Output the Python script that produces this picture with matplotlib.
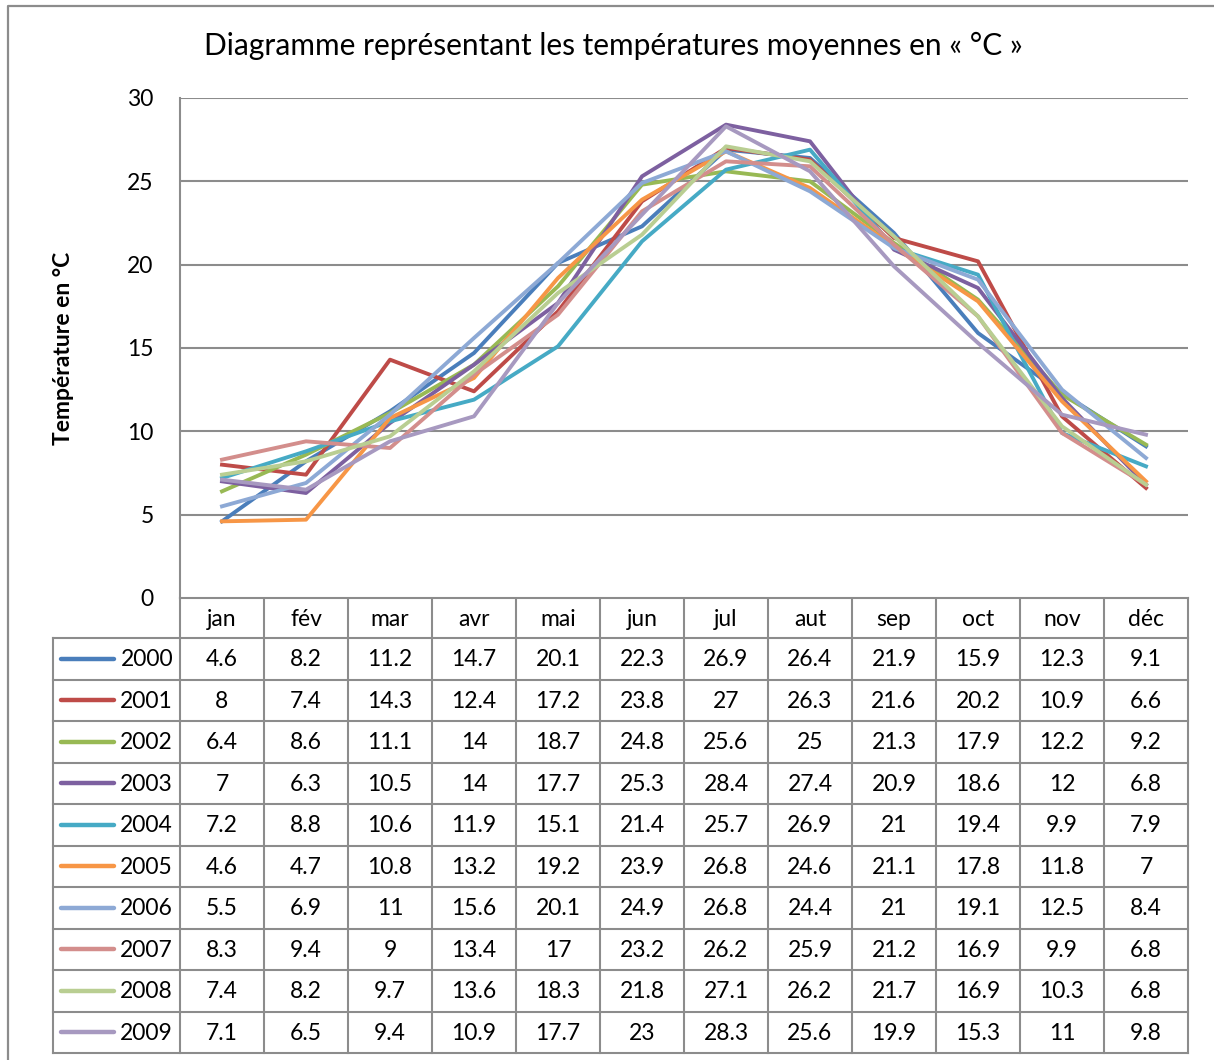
import numpy as np
import matplotlib.pyplot as plt

plt.rcParams['font.family'] = ['Lato', 'DejaVu Sans']

# mois et années
months = ['jan', 'fév', 'mar', 'avr', 'mai', 'jun', 'jul', 'aut', 'sep', 'oct', 'nov', 'déc']
years = ['2000', '2001', '2002', '2003', '2004', '2005', '2006', '2007', '2008', '2009']

# températures moyennes mensuelles (°C)
t2000 = [4.6, 8.2, 11.2, 14.7, 20.1, 22.3, 26.9, 26.4, 21.9, 15.9, 12.3, 9.1]
t2001 = [8, 7.4, 14.3, 12.4, 17.2, 23.8, 27, 26.3, 21.6, 20.2, 10.9, 6.6]
t2002 = [6.4, 8.6, 11.1, 14, 18.7, 24.8, 25.6, 25, 21.3, 17.9, 12.2, 9.2]
t2003 = [7, 6.3, 10.5, 14, 17.7, 25.3, 28.4, 27.4, 20.9, 18.6, 12, 6.8]
t2004 = [7.2, 8.8, 10.6, 11.9, 15.1, 21.4, 25.7, 26.9, 21, 19.4, 9.9, 7.9]
t2005 = [4.6, 4.7, 10.8, 13.2, 19.2, 23.9, 26.8, 24.6, 21.1, 17.8, 11.8, 7]
t2006 = [5.5, 6.9, 11, 15.6, 20.1, 24.9, 26.8, 24.4, 21, 19.1, 12.5, 8.4]
t2007 = [8.3, 9.4, 9, 13.4, 17, 23.2, 26.2, 25.9, 21.2, 16.9, 9.9, 6.8]
t2008 = [7.4, 8.2, 9.7, 13.6, 18.3, 21.8, 27.1, 26.2, 21.7, 16.9, 10.3, 6.8]
t2009 = [7.1, 6.5, 9.4, 10.9, 17.7, 23, 28.3, 25.6, 19.9, 15.3, 11, 9.8]
series = [t2000, t2001, t2002, t2003, t2004, t2005, t2006, t2007, t2008, t2009]

colors = ['#4A7EBB', '#BE4B48', '#98B954', '#7D60A0', '#46AAC5',
          '#F79646', '#8DA9D5', '#D38E8C', '#B9CE92', '#A799C0']

W, H = 1214, 1060
fig = plt.figure(figsize=(W / 100, H / 100), dpi=100)
grid_c = '#8C8C8C'
fs = 16.5

# zone de tracé (en pixels)
x0, x1 = 180, 1188
y_top, y_bot = 98, 598
ax = fig.add_axes([x0 / W, 1 - y_bot / H, (x1 - x0) / W, (y_bot - y_top) / H])
x = np.arange(len(months))
for s, c in zip(series, colors):
    ax.plot(x, s, color=c, lw=2.8, solid_joinstyle='round', zorder=3)
ax.set_xlim(-0.5, len(months) - 0.5)
ax.set_ylim(0, 30)
ax.set_yticks(range(0, 31, 5))
ax.set_xticks([])
ax.yaxis.grid(True, color=grid_c, lw=1.5)
ax.set_axisbelow(True)
for sp in ['top', 'right', 'bottom']:
    ax.spines[sp].set_visible(False)
ax.spines['left'].set_color(grid_c)
ax.spines['left'].set_linewidth(1.5)
ax.tick_params(axis='y', length=0, pad=19, labelsize=fs)
ax.set_ylabel('Température en °C', fontsize=16.5, fontweight='bold', labelpad=38)

# calque pour le cadre, le titre et le tableau de données
ov = fig.add_axes([0, 0, 1, 1], zorder=-1)
ov.set_xlim(0, W)
ov.set_ylim(H, 0)
ov.axis('off')
ov.plot([8, 8, W], [H, 6, 6], color=grid_c, lw=1.6)
ov.text(613, 46, 'Diagramme représentant les températures moyennes en « °C »',
        fontsize=21.5, ha='center', va='center')

col_w = (x1 - x0) / len(months)
hdr_top, hdr_bot = 598, 638
row_h = 41.5
tab_bot = hdr_bot + row_h * len(years)
leg_l = 53

for i in range(len(months) + 1):
    xe = x0 + col_w * i
    ov.plot([xe, xe], [hdr_top, tab_bot], color=grid_c, lw=1.5)
ov.plot([leg_l, leg_l], [hdr_bot, tab_bot], color=grid_c, lw=1.5)
ov.plot([x0, x1], [hdr_top, hdr_top], color=grid_c, lw=1.5)
for k in range(len(years) + 1):
    ye = hdr_bot + row_h * k
    ov.plot([leg_l, x1], [ye, ye], color=grid_c, lw=1.5)

for i, m in enumerate(months):
    ov.text(x0 + col_w * (i + 0.5), (hdr_top + hdr_bot) / 2 + 1, m,
            fontsize=fs, ha='center', va='center')

for k, (yr, s, c) in enumerate(zip(years, series, colors)):
    yc = hdr_bot + row_h * (k + 0.5)
    ov.plot([61, 114], [yc, yc], color=c, lw=3.2, solid_capstyle='round')
    ov.text(173, yc + 1, yr, fontsize=fs, ha='right', va='center')
    for i, v in enumerate(s):
        ov.text(x0 + col_w * (i + 0.5), yc + 1, f'{v:g}',
                fontsize=fs, ha='center', va='center')

fig.savefig('out.png', dpi=100)
